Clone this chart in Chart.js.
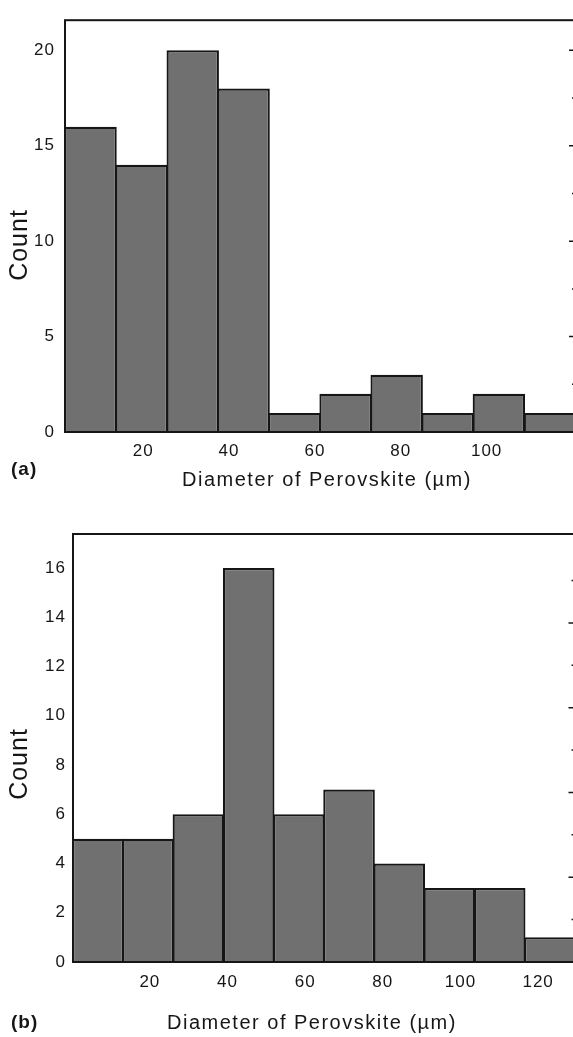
<!DOCTYPE html>
<html><head><meta charset="utf-8">
<script src="https://cdn.jsdelivr.net/npm/chart.js@4.4.1/dist/chart.umd.min.js"></script>
<style>
html,body{margin:0;padding:0;background:#fff;overflow:hidden;width:573px;height:1037px;}
canvas{position:absolute;left:0;}
</style></head><body>
<canvas id="ca" width="590" height="500" style="top:0px"></canvas>
<canvas id="cb" width="590" height="537" style="top:500px"></canvas>
<script>
// ---- data ----
const xTitle = 'Diameter of Perovskite (\u00b5m)';
const yTitle = 'Count';
const panelLabelA = '(a)';
const panelLabelB = '(b)';

const binEdgesA = [1.8, 13.7, 25.6, 37.5, 49.3, 61.2, 73.1, 85.0, 96.9, 108.8, 120.7];
const countsA   = [16, 14, 20, 18, 1, 2, 3, 1, 2, 1];
const xTicksA   = [20, 40, 60, 80, 100];
const yTicksA   = [0, 5, 10, 15, 20];
const yMaxA     = 21.58;
const rightMajorA = [5, 10, 15, 20];
const rightMinorA = [2.5, 7.5, 12.5, 17.5];
const y2MaxA    = 21.58;

const binEdgesB = [0.2, 13.1, 26.0, 39.0, 51.9, 64.8, 77.8, 90.7, 103.6, 116.6, 129.5];
const countsB   = [5, 5, 6, 16, 6, 7, 4, 3, 3, 1];
const xTicksB   = [20, 40, 60, 80, 100, 120];
const yTicksB   = [0, 2, 4, 6, 8, 10, 12, 14, 16];
const yMaxB     = 17.38;
const rightMajorB = [1, 2, 3, 4];
const rightMinorB = [0.5, 1.5, 2.5, 3.5, 4.5];
const y2MaxB    = 5.05;

// ---- helpers ----
const FONT = '"Liberation Sans", Arial, Helvetica, sans-serif';
const INK = '#161616';

function binPoints(edges, counts){
  return counts.map((c,i)=>({x:(edges[i]+edges[i+1])/2, y:c}));
}

function makeChart(id, o){
  const canvas = document.getElementById(id);
  const W = canvas.width, H = canvas.height;
  const plugin = {
    id:'frameAndText',
    beforeDraw(chart){ chart.ctx.letterSpacing = '1px'; },
    afterDatasetsDraw(chart){
      const ctx = chart.ctx, a = chart.chartArea;
      ctx.save();
      ctx.strokeStyle = INK; ctx.lineWidth = 2;
      ctx.strokeRect(a.left, a.top, a.right - a.left, a.bottom - a.top);
      const y2 = chart.scales.y2;
      ctx.lineWidth = 1.5;
      ctx.beginPath();
      o.rightMajor.forEach(v=>{ const y = y2.getPixelForValue(v); ctx.moveTo(a.right-6.5,y); ctx.lineTo(a.right,y); });
      o.rightMinor.forEach(v=>{ const y = y2.getPixelForValue(v); ctx.moveTo(a.right-3.5,y); ctx.lineTo(a.right,y); });
      ctx.stroke();
      ctx.restore();
    },
    afterDraw(chart){
      const ctx = chart.ctx;
      ctx.save();
      ctx.fillStyle = INK;
      ctx.textBaseline = 'middle';
      ctx.textAlign = 'center';
      ctx.font = '20px ' + FONT;
      ctx.letterSpacing = '1.5px';
      ctx.fillText(xTitle, o.titleX, o.titleY);
      ctx.textAlign = 'left';
      ctx.font = 'bold 19px ' + FONT;
      ctx.letterSpacing = '1px';
      ctx.fillText(o.label, o.labelX, o.labelY);
      ctx.translate(o.countX, o.countY);
      ctx.rotate(-Math.PI/2);
      ctx.textAlign = 'center';
      ctx.font = '25px ' + FONT;
      ctx.letterSpacing = '1px';
      ctx.fillText(yTitle, 0, 0);
      ctx.restore();
    }
  };
  return new Chart(canvas, {
    type:'bar',
    data:{ datasets:[{
      data: binPoints(o.edges, o.counts),
      backgroundColor:'#707070',
      borderColor: INK,
      borderWidth: 2.2,
      barPercentage: 1.03,
      categoryPercentage: 1,
      inflateAmount: 0
    }]},
    options:{
      responsive:false,
      animation:false,
      devicePixelRatio:1,
      layout:{ padding:{ left:0, top:o.top, right: W - o.right, bottom:0 } },
      plugins:{ legend:{display:false}, tooltip:{enabled:false} },
      scales:{
        x:{
          type:'linear', min:o.edges[0], max:o.edges[o.edges.length-1], offset:false,
          grid:{display:false, drawTicks:false}, border:{display:false},
          ticks:{ font:{family:FONT, size:17}, color:INK, padding:o.xPad, maxRotation:0, autoSkip:false },
          afterBuildTicks: s => { s.ticks = o.xTicks.map(v=>({value:v})); },
          afterFit: s => { s.height = H - o.bottom; }
        },
        y:{
          min:0, max:o.yMax,
          grid:{display:false, drawTicks:false}, border:{display:false},
          ticks:{ font:{family:FONT, size:17}, color:INK, padding:o.yPad },
          afterBuildTicks: s => { s.ticks = o.yTicks.map(v=>({value:v})); },
          afterFit: s => { s.width = o.left; }
        },
        y2:{ position:'right', min:0, max:o.y2Max, display:false }
      }
    },
    plugins:[plugin]
  });
}

makeChart('ca', {
  edges: binEdgesA, counts: countsA, xTicks: xTicksA, yTicks: yTicksA, yMax: yMaxA, y2Max: y2MaxA,
  rightMajor: rightMajorA, rightMinor: rightMinorA,
  left:65, top:9, right:575.5, bottom:432, xPad:9, yPad:10,
  label: panelLabelA, labelX:11, labelY:470, titleX:327, titleY:480, countX:20, countY:245
});
makeChart('cb', {
  edges: binEdgesB, counts: countsB, xTicks: xTicksB, yTicks: yTicksB, yMax: yMaxB, y2Max: y2MaxB,
  rightMajor: rightMajorB, rightMinor: rightMinorB,
  left:73, top:34, right:575, bottom:462, xPad:10, yPad:7,
  label: panelLabelB, labelX:11, labelY:523, titleX:312, titleY:523, countX:20, countY:264
});
</script>
</body></html>
